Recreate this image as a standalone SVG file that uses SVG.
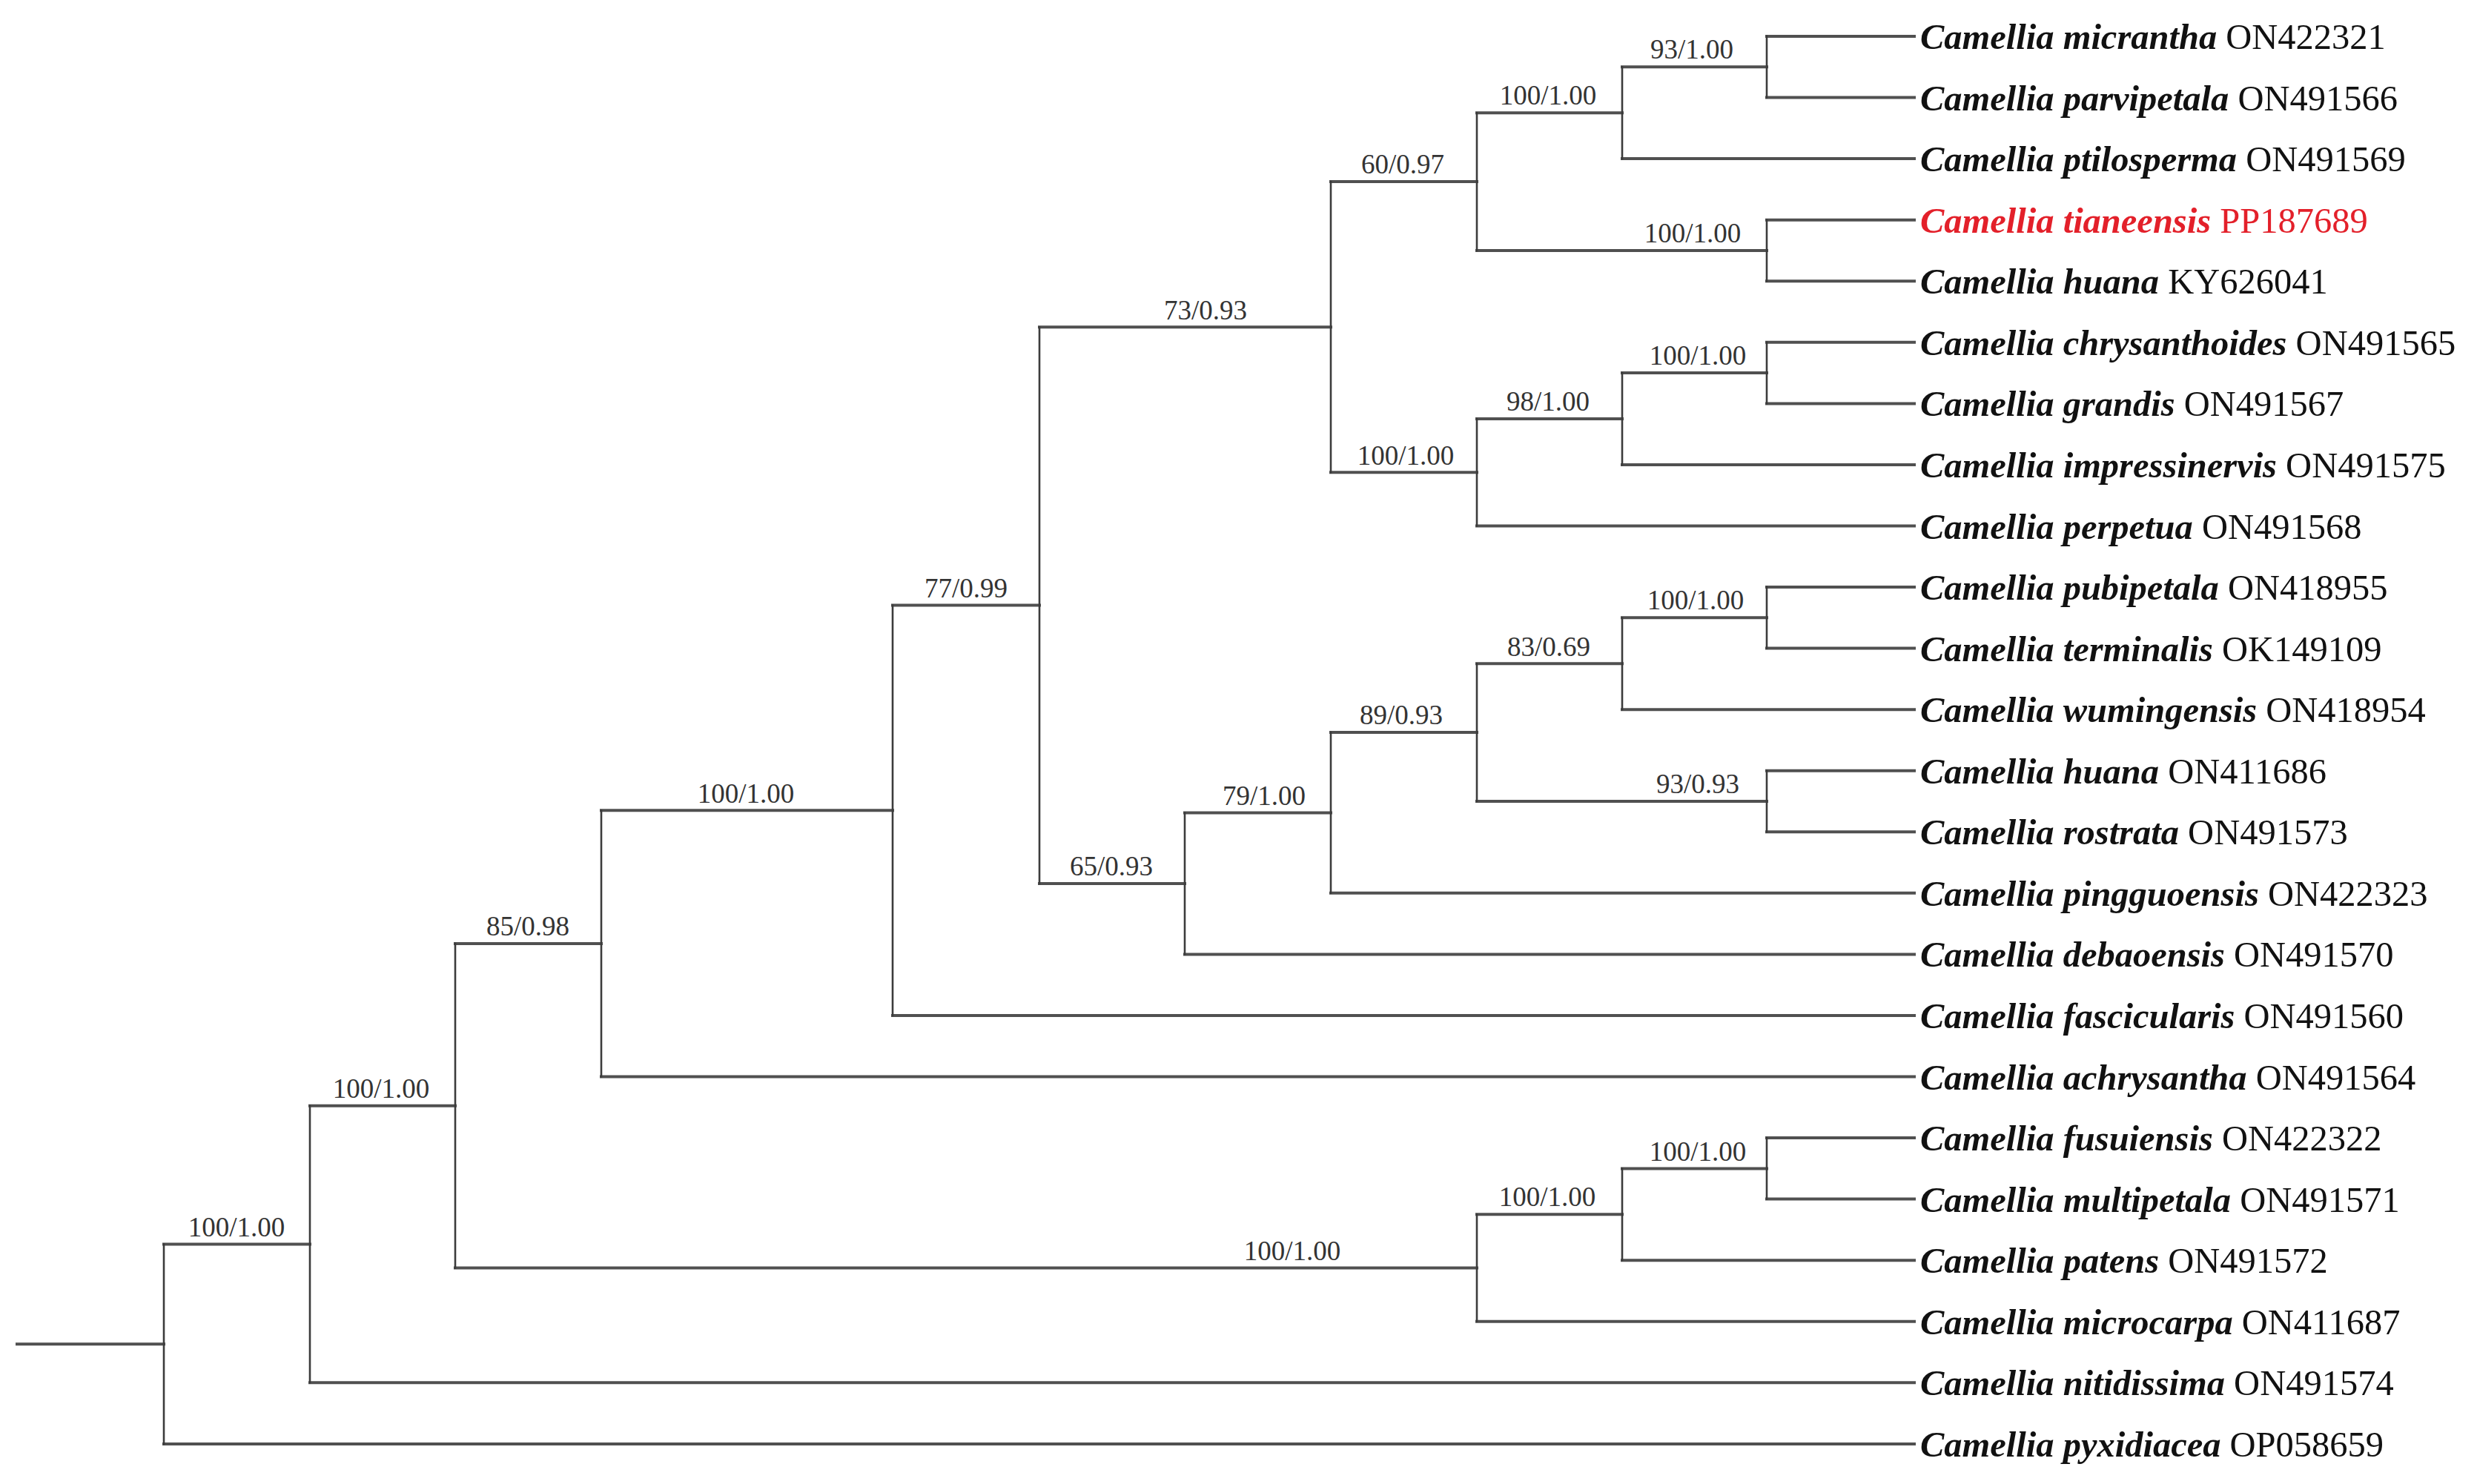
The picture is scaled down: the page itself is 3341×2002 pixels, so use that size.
<svg xmlns="http://www.w3.org/2000/svg" width="3341" height="2002" viewBox="0 0 3341 2002">
<style>
.h{stroke:#505050;stroke-width:4;fill:none;stroke-linecap:square}
.v{stroke:#3c3c3c;stroke-width:2.6;fill:none;stroke-linecap:square}
.sup{font-family:"Liberation Serif","Times New Roman",serif;font-size:37px;fill:#333;text-anchor:middle}
.tax{font-family:"Liberation Serif","Times New Roman",serif;font-size:48.5px;fill:#111}
.sp{font-weight:bold;font-style:italic}
.red{fill:#e3202a}
</style>
<rect width="3341" height="2002" fill="#fff"/>
<g id="connectors">
<path class="h" d="M23,1813.3H221 M221,1678.6H418 M221,1947.9H2582 M418,1491.8H614 M418,1865.3H2582 M614,1272.9H811 M614,1710.6H1992 M811,1093.3H1204 M811,1452.5H2582 M1204,816.6H1402 M1204,1370H2582 M1402,441.2H1795 M1402,1192H1598 M1795,245.1H1992 M1795,637.3H1992 M1992,152.2H2188 M1992,338H2383 M2188,90.3H2383 M2188,214.1H2582 M2383,49H2582 M2383,131.6H2582 M2383,296.7H2582 M2383,379.2H2582 M1992,565H2188 M1992,709.5H2582 M2188,503.1H2383 M2188,626.9H2582 M2383,461.8H2582 M2383,544.4H2582 M1598,1096.5H1795 M1598,1287.4H2582 M1795,988.1H1992 M1795,1204.8H2582 M1992,895.3H2188 M1992,1081H2383 M2188,833.3H2383 M2188,957.2H2582 M2383,792H2582 M2383,874.6H2582 M2383,1039.7H2582 M2383,1122.3H2582 M1992,1638.3H2188 M1992,1782.8H2582 M2188,1576.4H2383 M2188,1700.2H2582 M2383,1535.1H2582 M2383,1617.6H2582"/>
<path class="v" d="M221,1678.6V1947.9 M418,1491.8V1865.3 M614,1272.9V1710.6 M811,1093.3V1452.5 M1204,816.6V1370 M1402,441.2V1192 M1795,245.1V637.3 M1992,152.2V338 M2188,90.3V214.1 M2383,49V131.6 M2383,296.7V379.2 M1992,565V709.5 M2188,503.1V626.9 M2383,461.8V544.4 M1598,1096.5V1287.4 M1795,988.1V1204.8 M1992,895.3V1081 M2188,833.3V957.2 M2383,792V874.6 M2383,1039.7V1122.3 M1992,1638.3V1782.8 M2188,1576.4V1700.2 M2383,1535.1V1617.6"/>
</g>
<g id="support-values">
<g id="node-A"><text class="sup" x="319" y="1668">100/1.00</text></g>
<g id="node-B"><text class="sup" x="514" y="1481">100/1.00</text></g>
<g id="node-C"><text class="sup" x="712" y="1262">85/0.98</text></g>
<g id="node-G"><text class="sup" x="1006" y="1083">100/1.00</text></g>
<g id="node-H"><text class="sup" x="1303" y="806">77/0.99</text></g>
<g id="node-I"><text class="sup" x="1626" y="431">73/0.93</text></g>
<g id="node-K"><text class="sup" x="1892" y="234">60/0.97</text></g>
<g id="node-L"><text class="sup" x="1896" y="627">100/1.00</text></g>
<g id="node-M"><text class="sup" x="2088" y="141">100/1.00</text></g>
<g id="node-O"><text class="sup" x="2282" y="79">93/1.00</text></g>
<g id="node-N"><text class="sup" x="2283" y="327">100/1.00</text></g>
<g id="node-P"><text class="sup" x="2088" y="554">98/1.00</text></g>
<g id="node-Q"><text class="sup" x="2290" y="492">100/1.00</text></g>
<g id="node-J"><text class="sup" x="1499" y="1181">65/0.93</text></g>
<g id="node-R"><text class="sup" x="1705" y="1086">79/1.00</text></g>
<g id="node-S"><text class="sup" x="1890" y="977">89/0.93</text></g>
<g id="node-T"><text class="sup" x="2089" y="885">83/0.69</text></g>
<g id="node-V"><text class="sup" x="2287" y="822">100/1.00</text></g>
<g id="node-U"><text class="sup" x="2290" y="1070">93/0.93</text></g>
<g id="node-D"><text class="sup" x="1743" y="1700">100/1.00</text></g>
<g id="node-E"><text class="sup" x="2087" y="1627">100/1.00</text></g>
<g id="node-F"><text class="sup" x="2290" y="1566">100/1.00</text></g>
</g>
<g id="taxa">
<g id="t00"><text class="tax" x="2590" y="66"><tspan class="sp">Camellia micrantha</tspan> ON422321</text></g>
<g id="t01"><text class="tax" x="2590" y="148.6"><tspan class="sp">Camellia parvipetala</tspan> ON491566</text></g>
<g id="t02"><text class="tax" x="2590" y="231.1"><tspan class="sp">Camellia ptilosperma</tspan> ON491569</text></g>
<g id="t03"><text class="tax red" x="2590" y="313.7"><tspan class="sp">Camellia tianeensis</tspan> PP187689</text></g>
<g id="t04"><text class="tax" x="2590" y="396.2"><tspan class="sp">Camellia huana</tspan> KY626041</text></g>
<g id="t05"><text class="tax" x="2590" y="478.8"><tspan class="sp">Camellia chrysanthoides</tspan> ON491565</text></g>
<g id="t06"><text class="tax" x="2590" y="561.4"><tspan class="sp">Camellia grandis</tspan> ON491567</text></g>
<g id="t07"><text class="tax" x="2590" y="643.9"><tspan class="sp">Camellia impressinervis</tspan> ON491575</text></g>
<g id="t08"><text class="tax" x="2590" y="726.5"><tspan class="sp">Camellia perpetua</tspan> ON491568</text></g>
<g id="t09"><text class="tax" x="2590" y="809"><tspan class="sp">Camellia pubipetala</tspan> ON418955</text></g>
<g id="t10"><text class="tax" x="2590" y="891.6"><tspan class="sp">Camellia terminalis</tspan> OK149109</text></g>
<g id="t11"><text class="tax" x="2590" y="974.2"><tspan class="sp">Camellia wumingensis</tspan> ON418954</text></g>
<g id="t12"><text class="tax" x="2590" y="1056.7"><tspan class="sp">Camellia huana</tspan> ON411686</text></g>
<g id="t13"><text class="tax" x="2590" y="1139.3"><tspan class="sp">Camellia rostrata</tspan> ON491573</text></g>
<g id="t14"><text class="tax" x="2590" y="1221.8"><tspan class="sp">Camellia pingguoensis</tspan> ON422323</text></g>
<g id="t15"><text class="tax" x="2590" y="1304.4"><tspan class="sp">Camellia debaoensis</tspan> ON491570</text></g>
<g id="t16"><text class="tax" x="2590" y="1387"><tspan class="sp">Camellia fascicularis</tspan> ON491560</text></g>
<g id="t17"><text class="tax" x="2590" y="1469.5"><tspan class="sp">Camellia achrysantha</tspan> ON491564</text></g>
<g id="t18"><text class="tax" x="2590" y="1552.1"><tspan class="sp">Camellia fusuiensis</tspan> ON422322</text></g>
<g id="t19"><text class="tax" x="2590" y="1634.6"><tspan class="sp">Camellia multipetala</tspan> ON491571</text></g>
<g id="t20"><text class="tax" x="2590" y="1717.2"><tspan class="sp">Camellia patens</tspan> ON491572</text></g>
<g id="t21"><text class="tax" x="2590" y="1799.8"><tspan class="sp">Camellia microcarpa</tspan> ON411687</text></g>
<g id="t22"><text class="tax" x="2590" y="1882.3"><tspan class="sp">Camellia nitidissima</tspan> ON491574</text></g>
<g id="t23"><text class="tax" x="2590" y="1964.9"><tspan class="sp">Camellia pyxidiacea</tspan> OP058659</text></g>
</g>
</svg>
